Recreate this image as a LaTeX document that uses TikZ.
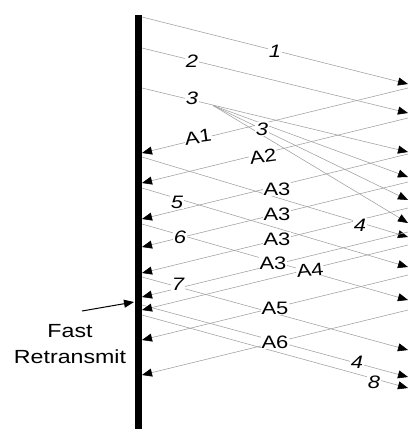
\documentclass[tikz,border=0pt]{standalone}
\usepackage{fontspec}
\setmainfont{Liberation Sans}[FakeStretch=1.22]
\usetikzlibrary{arrows.meta}
\tikzset{
  msg/.style={gray!75, line width=0.55pt, -{Triangle[length=10pt,width=8pt,color=black]}},
  lbl/.style={fill=white, inner sep=0.4pt, font=\fontsize{18}{18}\selectfont},
  num/.style={lbl, font=\fontsize{18}{18}\selectfont\itshape},
}
\begin{document}
\begin{tikzpicture}[x=1pt, y=-1pt]
\useasboundingbox (0,0) rectangle (408,429);
% sender time line
\coordinate (top) at (138.5,15);
\coordinate (bot) at (138.5,429);
\draw[line width=6.5pt] (top) -- (bot);

% data segments, sender -> receiver
\coordinate (s1) at (142,17);   \coordinate (r1) at (408,84);
\coordinate (s2) at (142,48);   \coordinate (r2) at (408,113);
\coordinate (s3) at (142,88);   \coordinate (r3) at (408,152);
\coordinate (f)  at (213,105.5);
\coordinate (r4) at (408,177);
\coordinate (r5) at (408,200);
\coordinate (r6) at (408,223);
\coordinate (s7) at (142,157);  \coordinate (r7) at (408,237);
\coordinate (s8) at (142,188);  \coordinate (r8) at (408,267);
\coordinate (s9) at (142,224);  \coordinate (r9) at (408,300);
\coordinate (s10) at (142,277); \coordinate (r10) at (408,350);
\coordinate (s11) at (142,305); \coordinate (r11) at (408,377);
\coordinate (s12) at (142,315); \coordinate (r12) at (408,388);
\draw[msg] (s1) -- (r1);
\draw[msg] (s2) -- (r2);
\draw[msg] (s3) -- (r3);
\draw[msg] (f) -- (r4);
\draw[msg] (f) -- (r5);
\draw[msg] (f) -- (r6);
\draw[msg] (s7) -- (r7);
\draw[msg] (s8) -- (r8);
\draw[msg] (s9) -- (r9);
\draw[msg] (s10) -- (r10);
\draw[msg] (s11) -- (r11);
\draw[msg] (s12) -- (r12);

% acks, receiver -> sender
\coordinate (q1) at (408,88);  \coordinate (p1) at (142,153);
\coordinate (q2) at (408,118); \coordinate (p2) at (142,183);
\coordinate (q3) at (408,154); \coordinate (p3) at (142,219);
\coordinate (q4) at (408,182); \coordinate (p4) at (142,247);
\coordinate (q5) at (408,208); \coordinate (p5) at (142,273);
\coordinate (q6) at (408,232); \coordinate (p6) at (142,297);
\coordinate (q7) at (408,245); \coordinate (p7) at (142,310);
\coordinate (q8) at (408,275); \coordinate (p8) at (142,340);
\coordinate (q9) at (408,310); \coordinate (p9) at (142,375);
\draw[msg] (q1) -- (p1);
\draw[msg] (q2) -- (p2);
\draw[msg] (q3) -- (p3);
\draw[msg] (q4) -- (p4);
\draw[msg] (q5) -- (p5);
\draw[msg] (q6) -- (p6);
\draw[msg] (q7) -- (p7);
\draw[msg] (q8) -- (p8);
\draw[msg] (q9) -- (p9);

% segment labels
\node[num] (n1) at (275,51) {1};
\node[num] (n2) at (192,61) {2};
\node[num] (n3) at (192,98) {3};
\node[num] (n3b) at (262,129) {3};
\node[num] (n4) at (360,225) {4};
\node[num] (n5) at (177,202) {5};
\node[num] (n6) at (180,237) {6};
\node[num] (n7) at (178,284) {7};
\node[num] (n4b) at (357,362) {4};
\node[num] (n8) at (374,382) {8};

% ack labels
\node[lbl, rotate=8] (a1) at (198,137) {A1};
\node[lbl, rotate=8] (a2) at (263,156) {A2};
\node[lbl] (a3a) at (277,189) {A3};
\node[lbl] (a3b) at (277,214) {A3};
\node[lbl] (a3c) at (277,239) {A3};
\node[lbl] (a3d) at (273,263) {A3};
\node[lbl, rotate=6] (a4) at (310,270) {A4};
\node[lbl] (a5) at (275,308) {A5};
\node[lbl] (a6) at (275,342) {A6};

% fast retransmit
\node[align=center, font=\fontsize{19}{26}\selectfont] (fr) at (70,344) {Fast\\Retransmit};
\coordinate (frtip) at (134,302);
\draw[line width=1pt, -{Triangle[length=10pt,width=8pt]}] (82,311) -- (frtip);
\end{tikzpicture}
\end{document}
